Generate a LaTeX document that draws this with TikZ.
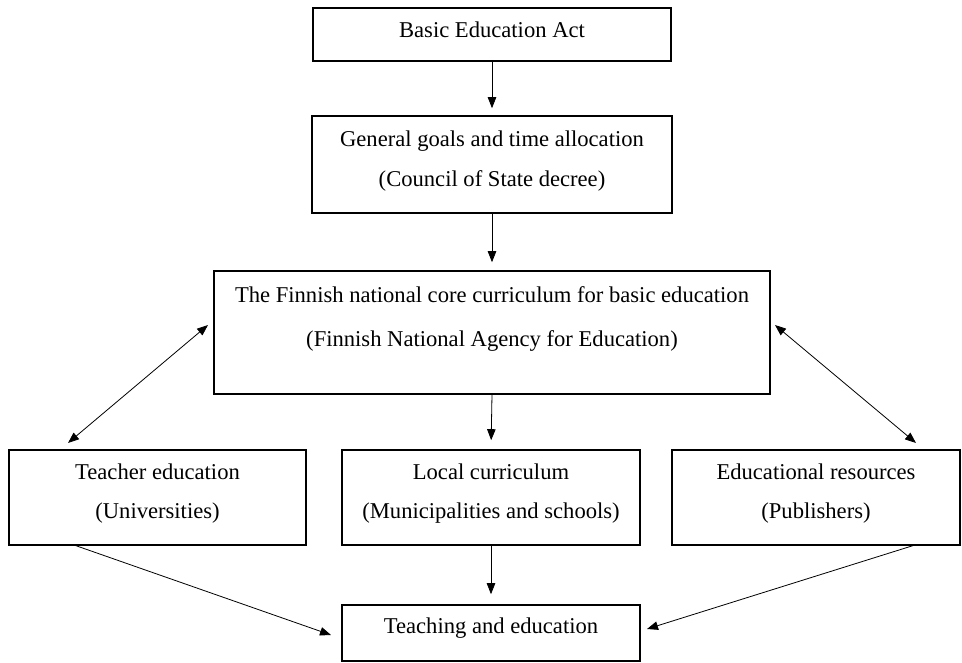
\documentclass[tikz,border=0pt]{standalone}
\usepackage{fontspec}
\setmainfont{Liberation Serif}
\usetikzlibrary{arrows.meta}
\begin{document}
\begin{tikzpicture}[x=1pt,y=-1pt,
  box/.style={draw=black, line width=1.6pt, inner sep=0pt, rectangle},
  txt/.style={anchor=base, inner sep=0pt, font=\fontsize{22.6}{27}\selectfont},
  conn/.style={line width=0.8pt, -{Triangle[length=11pt,width=8.5pt]}},
  dconn/.style={line width=0.8pt, {Triangle[length=11pt,width=8.5pt]}-{Triangle[length=11pt,width=8.5pt]}}]
\useasboundingbox (0,0) rectangle (962,663);
% boxes
\node[box, minimum width=358pt, minimum height=53pt] (b1) at (492,34.5) {};
\node[box, minimum width=360pt, minimum height=97pt] (b2) at (492,164.5) {};
\node[box, minimum width=556pt, minimum height=123pt] (b3) at (492,332.5) {};
\node[box, minimum width=297pt, minimum height=95pt] (b4) at (157.5,497.5) {};
\node[box, minimum width=298pt, minimum height=95pt] (b5) at (491,497.5) {};
\node[box, minimum width=288pt, minimum height=95pt] (b6) at (816,497.5) {};
\node[box, minimum width=298pt, minimum height=56pt] (b7) at (491,633) {};
% texts
\node[txt] (t1) at (492,38) {Basic Education Act};
\node[txt] (t2a) at (492,147) {General goals and time allocation};
\node[txt] (t2b) at (492,187) {(Council of State decree)};
\node[txt] (t3a) at (492,302) {The Finnish national core curriculum for basic education};
\node[txt] (t3b) at (492,346) {(Finnish National Agency for Education)};
\node[txt] (t4a) at (157.5,479) {Teacher education};
\node[txt] (t4b) at (157.5,518) {(Universities)};
\node[txt] (t5a) at (491,479) {Local curriculum};
\node[txt] (t5b) at (491,518) {(Municipalities and schools)};
\node[txt] (t6a) at (816,479) {Educational resources};
\node[txt] (t6b) at (816,518) {(Publishers)};
\node[txt] (t7) at (491,633) {Teaching and education};
% free ends
\coordinate (dl1) at (208,325);
\coordinate (dl2) at (68,443);
\coordinate (dr1) at (775,325);
\coordinate (dr2) at (916,443);
\coordinate (ls) at (74,545);
\coordinate (le) at (331,635);
\coordinate (rs) at (915,545);
\coordinate (re) at (647,629);
% connectors
\draw[conn, shorten >=7pt] (b1.south) -- (b2.north);
\draw[conn, shorten >=8pt] (b2.south) -- (b3.north);
\draw[conn, shorten >=9pt] (b3.south) -- (b5.north);
\draw[conn, shorten >=10pt] (b5.south) -- (b7.north);
\draw[dconn] (dl1) -- (dl2);
\draw[dconn] (dr1) -- (dr2);
\draw[conn] (ls) -- (le);
\draw[conn] (rs) -- (re);
\end{tikzpicture}
\end{document}
